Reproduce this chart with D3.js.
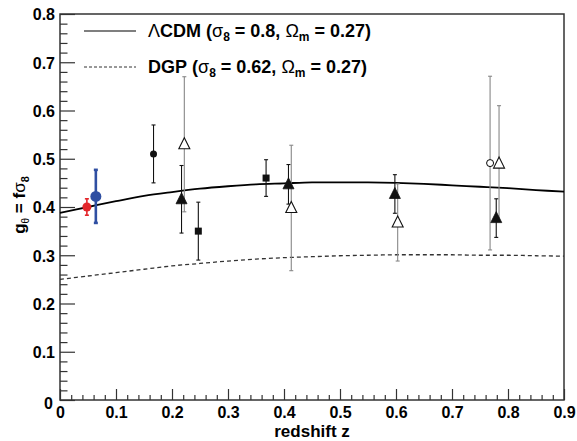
<!DOCTYPE html>
<html>
<head>
<meta charset="utf-8">
<script src="https://cdn.jsdelivr.net/npm/d3@7"></script>
<style>
  body { margin: 0; background: #fff; }
  text { font-family: "Liberation Sans", Arial, Helvetica, sans-serif; font-weight: bold; fill: #000; }
</style>
</head>
<body>
<div id="chart"></div>
<script>
// model curves
var zGrid = [0, 0.05, 0.1, 0.15, 0.2, 0.25, 0.3, 0.35, 0.4, 0.45, 0.5, 0.55, 0.6, 0.65, 0.7, 0.75, 0.8, 0.85, 0.9]
var lcdm = [0.388, 0.400, 0.412, 0.423, 0.431, 0.438, 0.443, 0.447, 0.449, 0.451, 0.451, 0.451, 0.450, 0.448, 0.445, 0.442, 0.439, 0.435, 0.432]
var dgp = [0.250, 0.257, 0.264, 0.271, 0.278, 0.283, 0.288, 0.292, 0.295, 0.297, 0.299, 0.300, 0.301, 0.301, 0.301, 0.300, 0.300, 0.299, 0.298]

// measurements
var ptZ = [0.048, 0.064, 0.167, 0.222, 0.217, 0.247, 0.368, 0.408, 0.413, 0.598, 0.603, 0.768, 0.784, 0.779]
var ptG = [0.400, 0.422, 0.510, 0.530, 0.416, 0.350, 0.460, 0.447, 0.398, 0.427, 0.368, 0.491, 0.490, 0.377]
var ptErr = [0.017, 0.055, 0.060, 0.140, 0.070, 0.060, 0.038, 0.041, 0.130, 0.040, 0.080, 0.180, 0.120, 0.040]
var ptSet = ["red", "blue", "dot", "openTri", "tri", "square", "square", "tri", "openTri", "tri", "openTri", "openCircle", "openTri", "tri"]

var xTicks = [0, 0.1, 0.2, 0.3, 0.4, 0.5, 0.6, 0.7, 0.8, 0.9]
var yTicks = [0, 0.1, 0.2, 0.3, 0.4, 0.5, 0.6, 0.7, 0.8]

var legendLabels = ["CDM", "DGP"]
var legendSigma = ["0.8", "0.62"]
var legendOmega = ["0.27", "0.27"]

var svgWidth = 577
var svgHeight = 441
var margin = {top: 14, right: 13, bottom: 41, left: 60}
var width = svgWidth - margin.left - margin.right
var height = svgHeight - margin.top - margin.bottom

var svg = d3.select("#chart").append("svg")
  .attr("width", svgWidth)
  .attr("height", svgHeight)

var g = svg.append("g")
  .attr("transform", `translate(${margin.left}, ${margin.top})`)

var x = d3.scaleLinear().domain([0, 0.9]).range([0, width])
var y = d3.scaleLinear().domain([0, 0.8]).range([height, 0])

// ticks inside the frame, ROOT style
var xMinor = d3.range(0, 0.9001, 0.02).filter(v => Math.abs(Math.round(v * 10) - v * 10) > 1e-6)
var yMinor = d3.range(0, 0.8001, 0.02).filter(v => Math.abs(Math.round(v * 10) - v * 10) > 1e-6)

var fmt = d => d === 0 ? "0" : d3.format(".1f")(d)
var xg = g.append("g").attr("transform", `translate(0, ${height})`)
  .call(d3.axisBottom(x).tickValues(xTicks).tickSize(-11).tickFormat(fmt))
var yg = g.append("g")
  .call(d3.axisLeft(y).tickValues(yTicks).tickSize(-15).tickPadding(5).tickFormat(fmt))
g.append("g").attr("transform", `translate(0, ${height})`)
  .call(d3.axisBottom(x).tickValues(xMinor).tickSize(-5).tickFormat(""))
g.append("g")
  .call(d3.axisLeft(y).tickValues(yMinor).tickSize(-7.5).tickFormat(""))

g.selectAll(".domain").remove()
g.selectAll(".tick line").attr("stroke", "#333").attr("stroke-width", 1.2)
xg.selectAll("text").attr("font-size", 16).attr("y", 18).attr("dy", 0)
yg.selectAll("text").attr("font-size", 16).attr("dy", "0.36em")
// the two zeros sit apart
yg.selectAll(".tick").filter(d => d === 0).select("text").attr("x", -7).attr("dy", "0.5em")

// frame
g.append("rect")
  .attr("width", width).attr("height", height)
  .attr("fill", "none").attr("stroke", "#333").attr("stroke-width", 1.5)

// curves
var line = d3.line().x((d, i) => x(zGrid[i])).y(d => y(d)).curve(d3.curveCatmullRom)
g.append("path").datum(lcdm).attr("d", line)
  .attr("fill", "none").attr("stroke", "#000").attr("stroke-width", 1.8)
g.append("path").datum(dgp).attr("d", line)
  .attr("fill", "none").attr("stroke", "#333").attr("stroke-width", 1.3).attr("stroke-dasharray", "4,3")

// error bars
var pts = ptZ.map((z, i) => ({z: z, g: ptG[i], e: ptErr[i], s: ptSet[i]}))
function barColor(s) {
  if (s === "red") return "#e3262b"
  if (s === "blue") return "#2f4fa2"
  if (s === "openTri" || s === "openCircle") return "#888"
  return "#111"
}
function barWidth(s) {
  if (s === "blue") return 2.6
  if (s === "red") return 1.6
  return 1.1
}

var bars = g.append("g").selectAll("g").data(pts).enter().append("g")
  .attr("stroke", d => barColor(d.s)).attr("stroke-width", d => barWidth(d.s))
bars.append("line")
  .attr("x1", d => x(d.z)).attr("x2", d => x(d.z))
  .attr("y1", d => y(d.g + d.e)).attr("y2", d => y(d.g - d.e))
bars.append("line")
  .attr("x1", d => x(d.z) - 2).attr("x2", d => x(d.z) + 2)
  .attr("y1", d => y(d.g + d.e)).attr("y2", d => y(d.g + d.e))
bars.append("line")
  .attr("x1", d => x(d.z) - 2).attr("x2", d => x(d.z) + 2)
  .attr("y1", d => y(d.g - d.e)).attr("y2", d => y(d.g - d.e))

// markers
var marks = g.append("g")
pts.forEach(function(d) {
  var cx = x(d.z), cy = y(d.g)
  if (d.s === "red" || d.s === "blue" || d.s === "dot") {
    marks.append("circle").attr("cx", cx).attr("cy", cy)
      .attr("r", d.s === "blue" ? 5.5 : d.s === "red" ? 4.5 : 3.5)
      .attr("fill", barColor(d.s))
  } else if (d.s === "openCircle") {
    marks.append("circle").attr("cx", cx).attr("cy", cy).attr("r", 3.5)
      .attr("fill", "#fff").attr("stroke", "#000").attr("stroke-width", 1)
  } else if (d.s === "square") {
    marks.append("rect").attr("x", cx - 3.5).attr("y", cy - 3.5)
      .attr("width", 7).attr("height", 7).attr("fill", "#111")
  } else {
    var open = d.s === "openTri"
    marks.append("path")
      .attr("d", `M${cx},${cy - 6.5}L${cx + 5.5},${cy + 4.5}L${cx - 5.5},${cy + 4.5}Z`)
      .attr("fill", open ? "#fff" : "#111")
      .attr("stroke", "#111").attr("stroke-width", open ? 1.1 : 0.8)
  }
})

// legend
var legY = [31, 67]
legendLabels.forEach(function(lab, i) {
  svg.append("line")
    .attr("x1", 84).attr("x2", 136).attr("y1", legY[i]).attr("y2", legY[i])
    .attr("stroke", i === 0 ? "#000" : "#333")
    .attr("stroke-width", i === 0 ? 1.2 : 1)
    .attr("stroke-dasharray", i === 0 ? null : "3,2")
  var t = svg.append("text").attr("x", 148).attr("y", legY[i] + 6).attr("font-size", 18)
  if (i === 0) t.append("tspan").attr("font-weight", "normal").text("\u039B")
  t.append("tspan").text(lab + "\u00A0(")
  t.append("tspan").attr("font-weight", "normal").text("\u03C3")
  t.append("tspan").attr("font-size", 12).attr("dy", 4).text("8")
  t.append("tspan").attr("dy", -4).text("\u00A0=\u00A0" + legendSigma[i] + ",\u00A0")
  t.append("tspan").attr("font-weight", "normal").text("\u03A9")
  t.append("tspan").attr("font-size", 12).attr("dy", 4).text("m")
  t.append("tspan").attr("dy", -4).text("\u00A0=\u00A0" + legendOmega[i] + ")")
})

// axis titles
svg.append("text")
  .attr("x", margin.left + width / 2).attr("y", 437)
  .attr("text-anchor", "middle").attr("font-size", 17)
  .text("redshift z")

var yt = svg.append("text")
  .attr("transform", "translate(25, 205) rotate(-90)")
  .attr("text-anchor", "middle").attr("font-size", 17)
yt.append("tspan").text("g")
yt.append("tspan").attr("font-size", 10).attr("font-weight", "normal").attr("dy", 4).text("\u03B8")
yt.append("tspan").attr("dy", -4).text("\u00A0=\u00A0f")
yt.append("tspan").attr("font-weight", "normal").text("\u03C3")
yt.append("tspan").attr("font-size", 11).attr("dy", 4).text("8")
</script>
</body>
</html>
